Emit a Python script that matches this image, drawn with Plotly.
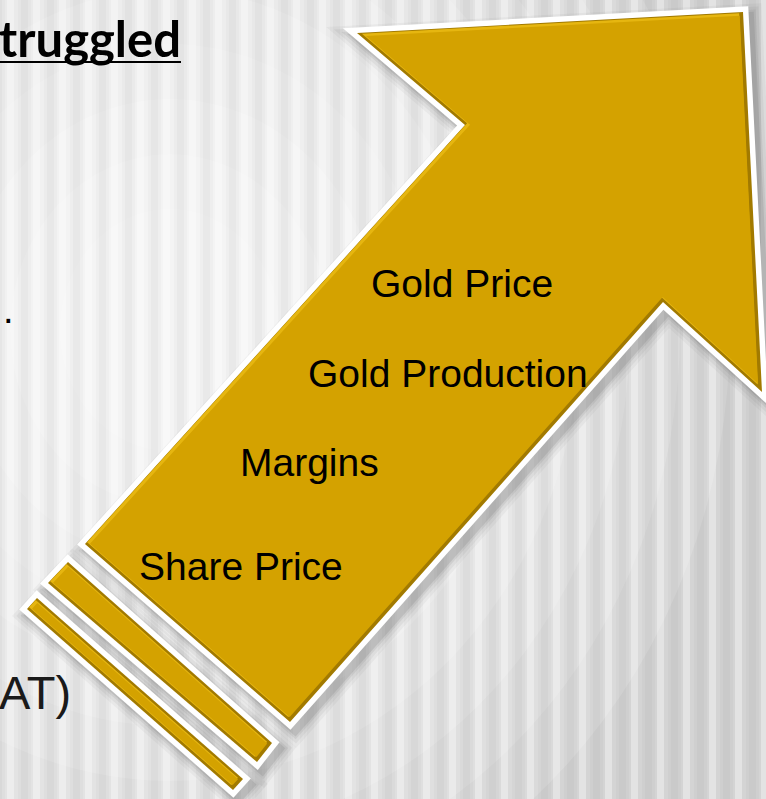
import plotly.graph_objects as go

W, H = 766, 799

# ---- content -------------------------------------------------------------
labels = ["Gold Price", "Gold Production", "Margins", "Share Price"]
label_pos = [(462, 283), (448, 373), (309, 462), (241, 566)]

# arrow outline (gold edge), screen pixels, clockwise
arrow_pts = [(357, 33), (743, 12), (762, 392), (663, 302),
             (290, 722), (85, 544), (465, 125)]
stripe1_pts = [(68, 562), (272, 743), (257, 762), (48, 583)]
stripe2_pts = [(37, 598), (243, 779), (233, 790), (27, 609)]

GOLD = "#D4A200"
GOLD_DARK = "#A27A00"
GOLD_LIGHT = "#E6B610"


def area(p):
    s = 0
    for i in range(len(p)):
        x1, y1 = p[i]
        x2, y2 = p[(i + 1) % len(p)]
        s += x1 * y2 - x2 * y1
    return s


def offset(p, d):
    """offset polygon outward by d (negative = inward)"""
    sgn = 1 if area(p) > 0 else -1
    n = len(p)
    lines = []
    for i in range(n):
        x1, y1 = p[i]
        x2, y2 = p[(i + 1) % n]
        dx, dy = x2 - x1, y2 - y1
        L = (dx * dx + dy * dy) ** 0.5
        nx, ny = sgn * dy / L, -sgn * dx / L
        lines.append(((x1 + nx * d, y1 + ny * d), (dx, dy)))
    out = []
    for i in range(n):
        (px, py), (ux, uy) = lines[i - 1]
        (qx, qy), (vx, vy) = lines[i]
        den = ux * vy - uy * vx
        t = ((qx - px) * vy - (qy - py) * vx) / den
        out.append((px + t * ux, py + t * uy))
    return out


def shift(p, dx, dy):
    return [(x + dx, y + dy) for x, y in p]


def path(p):
    return "M " + " L ".join(f"{x:.2f},{y:.2f}" for x, y in p) + " Z"


shapes = []

# ---- background -----------------------------------------------------------
shapes.append(dict(type="rect", xref="x", yref="y", x0=0, x1=W, y0=0, y1=H,
                   fillcolor="#d4d4d4", line_width=0, layer="below"))
for r in range(560, 60, -50):
    shapes.append(dict(type="circle", xref="x", yref="y",
                       x0=170 - r, x1=170 + r, y0=330 - r * 1.1, y1=330 + r * 1.1,
                       fillcolor="white", opacity=0.15, line_width=0, layer="below"))
for x in range(-8, W + 30, 26):
    shapes.append(dict(type="rect", xref="x", yref="y", x0=x, x1=x + 13, y0=0, y1=H,
                       fillcolor="black", opacity=0.02, line_width=0, layer="below"))
    shapes.append(dict(type="rect", xref="x", yref="y", x0=x + 3, x1=x + 10, y0=0, y1=H,
                       fillcolor="black", opacity=0.025, line_width=0, layer="below"))
    shapes.append(dict(type="rect", xref="x", yref="y", x0=x + 15, x1=x + 22, y0=0, y1=H,
                       fillcolor="white", opacity=0.35, line_width=0, layer="below"))

# ---- arrow + stripes ------------------------------------------------------
for poly in (arrow_pts, stripe1_pts, stripe2_pts):
    # soft drop shadow
    for k, op in ((14, 0.05), (11, 0.07), (8, 0.1), (6, 0.14)):
        shapes.append(dict(type="path", path=path(shift(offset(poly, k), 5, 6)),
                           fillcolor="#555555", opacity=op, line_width=0, layer="below"))
for poly in (arrow_pts, stripe1_pts, stripe2_pts):
    shapes.append(dict(type="path", path=path(offset(poly, 5.5)),
                       fillcolor="white", line_width=0, layer="below"))
    shapes.append(dict(type="path", path=path(poly),
                       fillcolor=GOLD_DARK, line_width=0, layer="below"))
    shapes.append(dict(type="path", path=path(shift(offset(poly, -2.5), -1.5, -1.5)),
                       fillcolor=GOLD_LIGHT, line_width=0, layer="below"))
    shapes.append(dict(type="path", path=path(offset(poly, -3.5)),
                       fillcolor=GOLD, line_width=0, layer="below"))

# underline for the cut-off heading
shapes.append(dict(type="line", xref="x", yref="y", x0=0, x1=181, y0=62, y1=62,
                   line=dict(color="black", width=2)))

annotations = []
for txt, (x, y) in zip(labels, label_pos):
    annotations.append(dict(x=x, y=y, xref="x", yref="y", text=txt, showarrow=False,
                            xanchor="center", yanchor="middle",
                            font=dict(family="Liberation Sans, Arial", size=39, color="black")))

annotations.append(dict(x=181, y=38, xref="x", yref="y", text="truggled", showarrow=False,
                        xanchor="right", yanchor="middle", xshift=2,
                        font=dict(family="Lato", size=49, color="black", weight="bold")))
annotations.append(dict(x=1, y=310, xref="x", yref="y", text=".", showarrow=False,
                        xanchor="left", yanchor="middle",
                        font=dict(family="Liberation Sans, Arial", size=38, color="black")))
annotations.append(dict(x=0, y=692, xref="x", yref="y", text="AT)", showarrow=False,
                        xanchor="left", yanchor="middle", xshift=-3,
                        font=dict(family="Liberation Sans, Arial", size=47, color="#1a1a1a")))

fig = go.Figure()
fig.add_trace(go.Scatter(x=[0, W], y=[0, H], mode="markers",
                         marker=dict(opacity=0), hoverinfo="skip", showlegend=False))
fig.update_layout(
    width=W, height=H, margin=dict(l=0, r=0, t=0, b=0),
    paper_bgcolor="white", plot_bgcolor="white",
    xaxis=dict(range=[0, W], visible=False, fixedrange=True),
    yaxis=dict(range=[H, 0], visible=False, fixedrange=True),
    shapes=shapes, annotations=annotations, showlegend=False,
)
fig.write_html("out.html", config={"displayModeBar": False},
               post_script="document.body.style.margin='0px';document.body.style.overflow='hidden';")
